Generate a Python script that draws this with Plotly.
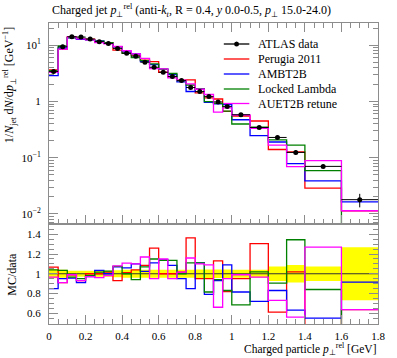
import plotly.graph_objects as go

# ---------------- data ----------------
bin_edges = [0.0, 0.05, 0.1, 0.15, 0.2, 0.25, 0.3, 0.35, 0.4, 0.45, 0.5, 0.55, 0.6, 0.65,
             0.7, 0.75, 0.8, 0.85, 0.9, 0.95, 1.0, 1.1, 1.2, 1.3, 1.4, 1.6, 1.8]

atlas_data = [3.4, 9.4, 14.2, 14.0, 12.9, 11.6, 10.8, 8.8, 7.2, 6.4, 5.0, 4.06, 3.31, 2.77,
              2.35, 1.77, 1.50, 1.22, 0.98, 0.81, 0.58, 0.344, 0.229, 0.124, 0.070, 0.0179]
atlas_rel_err = [0.045, 0.04, 0.03, 0.03, 0.03, 0.03, 0.03, 0.035, 0.04, 0.04, 0.04, 0.04, 0.04,
                 0.04, 0.04, 0.04, 0.042, 0.042, 0.042, 0.042, 0.04, 0.04, 0.073, 0.09, 0.073, 0.27]

ratio_perugia2011 = [1.068, 0.91, 0.99, 0.93, 1.0, 1.0, 1.017, 0.93, 1.01, 1.04, 1.085, 1.26, 1.0,
                     1.0, 1.017, 1.365, 0.95, 0.95, 1.13, 0.82, 0.95, 1.305, 0.61, 1.02, 0.41, 0.635]
ratio_ambt2b = [0.85, 0.95, 0.955, 0.91, 0.97, 1.034, 1.0, 1.07, 1.06, 1.10, 1.024, 1.11, 1.14,
                1.085, 0.95, 0.85, 1.11, 0.79, 0.93, 1.09, 0.815, 0.72, 0.83, 0.63, 0.55, 0.915]
ratio_locked_lambda = [1.04, 1.034, 0.965, 0.95, 0.98, 1.017, 1.027, 1.075, 1.0, 0.94, 1.07, 1.15,
                       1.135, 1.135, 1.0, 1.11, 1.11, 0.815, 0.94, 0.83, 0.685, 1.02, 0.905, 1.345,
                       0.84, 0.2]
ratio_auet2b = [0.965, 0.91, 0.99, 0.93, 0.97, 0.96, 0.98, 1.08, 1.108, 1.10, 1.17, 0.95, 1.15,
                0.95, 1.017, 1.16, 1.10, 1.09, 0.66, 0.95, 0.99, 0.965, 0.73, 0.56, 1.27, 0.635]

series_names = ["Perugia 2011", "AMBT2B", "Locked Lambda", "AUET2B retune"]
series_ratios = [ratio_perugia2011, ratio_ambt2b, ratio_locked_lambda, ratio_auet2b]
series_colors = ["#ff0000", "#0000ff", "#008000", "#ff00ff"]

x_ticks = [0, 0.2, 0.4, 0.6, 0.8, 1.0, 1.2, 1.4, 1.6, 1.8]
main_tickvals = [0.01, 0.1, 1, 10]
main_ticktext = ["10<sup>−2</sup>", "10<sup>−1</sup>", "1", "10<sup>1</sup>"]
ratio_tickvals = [0.6, 0.8, 1.0, 1.2, 1.4]
ratio_ticktext = ["0.6", "0.8", "1", "1.2", "1.4"]

# ---------------- derived ----------------
centers = [(a + b) / 2 for a, b in zip(bin_edges[:-1], bin_edges[1:])]
halfw = [(b - a) / 2 for a, b in zip(bin_edges[:-1], bin_edges[1:])]
atlas_err = [v * e for v, e in zip(atlas_data, atlas_rel_err)]

FONT = "Liberation Serif"
AX = "#8c8c8c"
W, H = 397, 358
L, R, T, B = 49, 13, 23, 34
PW, PH = W - L - R, H - T - B
split = 100 / PH


def px(x):
    return (x - L) / PW


def py(y):
    return (H - B - y) / PH


fig = go.Figure()

# yellow band in ratio
band_hi = [1 + e for e in atlas_rel_err]
band_lo = [1 - e for e in atlas_rel_err]
fig.add_trace(go.Scatter(x=bin_edges, y=band_lo + [band_lo[-1]], mode="lines", line_shape="hv",
                         line=dict(width=0, color="yellow"), xaxis="x2", yaxis="y2",
                         showlegend=False, hoverinfo="skip"))
fig.add_trace(go.Scatter(x=bin_edges, y=band_hi + [band_hi[-1]], mode="lines", line_shape="hv",
                         line=dict(width=0, color="yellow"), fill="tonexty",
                         fillcolor="#ffff00", xaxis="x2", yaxis="y2",
                         showlegend=False, hoverinfo="skip"))
# data/data line
data_ratio = [v / v for v in atlas_data]
fig.add_trace(go.Scatter(x=bin_edges, y=data_ratio + [data_ratio[-1]], mode="lines", line_shape="hv",
                         line=dict(width=1, color="#333333"), xaxis="x2", yaxis="y2",
                         showlegend=False, hoverinfo="skip"))

for name, ratio, col in zip(series_names, series_ratios, series_colors):
    mc = [r * d for r, d in zip(ratio, atlas_data)]
    fig.add_trace(go.Scatter(x=bin_edges, y=mc + [mc[-1]], mode="lines", line_shape="hv",
                             line=dict(width=1.3, color=col), name=name,
                             xaxis="x", yaxis="y", showlegend=False))
    fig.add_trace(go.Scatter(x=bin_edges, y=ratio + [ratio[-1]], mode="lines", line_shape="hv",
                             line=dict(width=1.3, color=col), name=name,
                             xaxis="x2", yaxis="y2", showlegend=False))

fig.add_trace(go.Scatter(x=centers, y=atlas_data, mode="markers", name="ATLAS data",
                         marker=dict(color="black", size=5),
                         error_y=dict(type="data", array=atlas_err, color="black", thickness=1, width=0),
                         error_x=dict(type="data", array=halfw, color="black", thickness=1, width=0),
                         xaxis="x", yaxis="y", showlegend=False))

# minor ticks for log axis
log_minor = [m * 10 ** k for k in (-3, -2, -1, 0, 1) for m in range(2, 10)]

tickfont = dict(family=FONT, size=11, color="black")
common_x = dict(range=[0, 1.8], showgrid=False, zeroline=False, showline=True, linecolor=AX,
                linewidth=1, ticks="inside", ticklen=9, tickcolor=AX, tickvals=x_ticks,
                minor=dict(dtick=0.05, tick0=0, ticks="inside", ticklen=5, tickcolor=AX, showgrid=False))

fig.update_layout(
    width=W, height=H, autosize=False,
    margin=dict(l=L, r=R, t=T, b=B),
    paper_bgcolor="white", plot_bgcolor="white",
    showlegend=False,
    xaxis=dict(domain=[0, 1], anchor="y", showticklabels=False, mirror="ticks", matches="x2", **common_x),
    xaxis2=dict(domain=[0, 1], anchor="y2", showticklabels=True, mirror=True, tickfont=tickfont,
                ticklabelstandoff=2, **common_x),
    yaxis=dict(domain=[split, 1], anchor="x", type="log", range=[-2.18, 1.396], showgrid=False,
               zeroline=False, showline=True, linecolor=AX, linewidth=1, mirror="ticks",
               ticks="inside", ticklen=9, tickcolor=AX, tickvals=main_tickvals, ticktext=main_ticktext,
               tickfont=tickfont, ticklabelstandoff=5,
               minor=dict(tickvals=log_minor, ticks="inside", ticklen=5, tickcolor=AX, showgrid=False)),
    yaxis2=dict(domain=[0, split], anchor="x2", range=[0.49, 1.505], showgrid=False, zeroline=False,
                showline=True, linecolor=AX, linewidth=1, mirror="ticks", ticks="inside", ticklen=9,
                tickcolor=AX, tickvals=ratio_tickvals, ticktext=ratio_ticktext, tickfont=tickfont,
                ticklabelstandoff=5,
                minor=dict(dtick=0.05, tick0=0, ticks="inside", ticklen=5, tickcolor=AX, showgrid=False)),
)

annotations = []
annotations.append(dict(
    text="Charged jet <i>p</i><sub>⊥</sub><sup>rel</sup> (anti-<i>k</i><sub><i>t</i></sub>, R = 0.4, "
         "<i>y</i> 0.0-0.5, <i>p</i><sub>⊥</sub> 15.0-24.0)",
    x=px(50), y=py(11), xref="paper", yref="paper", xanchor="left", yanchor="middle",
    showarrow=False, font=dict(family=FONT, size=12, color="black")))
annotations.append(dict(
    text="1/<i>N</i><sub>jet</sub> d<i>N</i>/d<i>p</i><sub>⊥</sub><sup>rel</sup> [GeV<sup>−1</sup>]",
    x=px(9), y=py(24), xref="paper", yref="paper", xanchor="center", yanchor="top", textangle=-90,
    showarrow=False, font=dict(family=FONT, size=12, color="black")))
annotations.append(dict(
    text="MC/data", x=px(11), y=py(274), xref="paper", yref="paper", xanchor="center",
    yanchor="middle", textangle=-90, showarrow=False, font=dict(family=FONT, size=12, color="black")))
annotations.append(dict(
    text="Charged particle <i>p</i><sub>⊥</sub><sup>rel</sup> [GeV]",
    x=px(384), y=py(349), xref="paper", yref="paper", xanchor="right", yanchor="middle",
    showarrow=False, font=dict(family=FONT, size=11.5, color="black")))

# legend (manual, Rivet style)
legend_names = ["ATLAS data"] + series_names
legend_colors = ["black"] + series_colors
legend_rows = [44, 59, 74, 89, 103.5]
shapes = []
for nm, col, yy in zip(legend_names, legend_colors, legend_rows):
    shapes.append(dict(type="line", xref="paper", yref="paper", x0=px(227), x1=px(253),
                       y0=py(yy), y1=py(yy), line=dict(color=col, width=1.3)))
    annotations.append(dict(text=nm, x=px(260), y=py(yy), xref="paper", yref="paper",
                            xanchor="left", yanchor="middle", showarrow=False,
                            font=dict(family=FONT, size=12, color="black")))
shapes.append(dict(type="circle", xref="paper", yref="paper", x0=px(237.5), x1=px(242.5),
                   y0=py(46.5), y1=py(41.5), fillcolor="black", line=dict(color="black", width=0)))

fig.update_layout(annotations=annotations, shapes=shapes)

fig.write_html("out.html", config={"displayModeBar": False},
               post_script="document.body.style.margin='0';")
